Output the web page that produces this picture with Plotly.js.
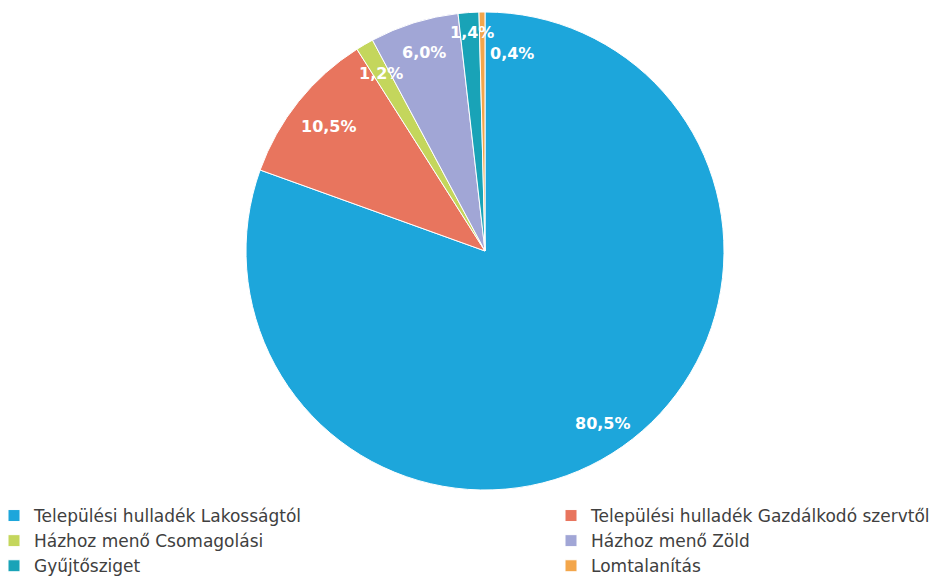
<!DOCTYPE html>
<html>
<head>
<meta charset="utf-8">
<script src="https://cdn.plot.ly/plotly-3.0.1.min.js"></script>
<style>
html, body { margin: 0; padding: 0; overflow: hidden; background: #ffffff; }
#chart { width: 1150px; height: 584px; position: relative; left: -6px; }
</style>
</head>
<body>
<div id="chart"></div>
<script>
// Data
const categories = [
  "Települési hulladék Lakosságtól",
  "Települési hulladék Gazdálkodó szervtől",
  "Házhoz menő Csomagolási",
  "Házhoz menő Zöld",
  "Gyűjtősziget",
  "Lomtalanítás"
];
const shares = [80.5, 10.5, 1.2, 6.0, 1.4, 0.4];
const sliceColors = ["#1DA6DB", "#E8755E", "#C4D65C", "#A1A6D6", "#19A3B7", "#F3A64B"];

// Style: label placement (fraction of radius) and per-label nudges in px [right, down]
const LABEL_R = 0.86;
const labelNudge = [[0, 4], [4, 4], [0, 0], [0, -2], [1, -13], [30, 8]];

const W = 1150, H = 584, SHIFT = 6;
const dom = { x: [(246 + SHIFT) / W, (724 + SHIFT) / W], y: [(H - 490) / H, (H - 12) / H] };

const trace = {
  type: "pie",
  labels: categories,
  values: shares,
  sort: false,
  direction: "clockwise",
  rotation: 0,
  marker: { colors: sliceColors, line: { color: "#ffffff", width: 1 } },
  textinfo: "none",
  hoverinfo: "label+percent",
  domain: dom
};

// Percentage labels placed at each slice's mid-angle (computed from the data)
const total = shares.reduce((a, b) => a + b, 0);
const cxPx = (dom.x[0] + dom.x[1]) / 2 * W;
const cyPx = H - (dom.y[0] + dom.y[1]) / 2 * H;
const Rpx = Math.min((dom.x[1] - dom.x[0]) * W, (dom.y[1] - dom.y[0]) * H) / 2;
const fmtPct = v => (v / total * 100).toFixed(1).replace(".", ",") + "%";
let cum = 0;
const annotations = shares.map((v, i) => {
  const mid = (cum + v / 2) / total * 2 * Math.PI;
  cum += v;
  const px = cxPx + LABEL_R * Rpx * Math.sin(mid) + labelNudge[i][0];
  const py = cyPx - LABEL_R * Rpx * Math.cos(mid) + labelNudge[i][1];
  return {
    xref: "paper", yref: "paper",
    x: px / W, y: (H - py) / H,
    xanchor: "center", yanchor: "middle",
    text: fmtPct(v),
    showarrow: false,
    font: { family: "DejaVu Sans, sans-serif", size: 16, color: "#ffffff", weight: "bold" }
  };
});

const layout = {
  width: W,
  height: H,
  margin: { l: 0, r: 0, t: 0, b: 0 },
  paper_bgcolor: "#ffffff",
  showlegend: true,
  annotations: annotations,
  legend: {
    orientation: "h",
    x: 0,
    xanchor: "left",
    y: 0,
    yanchor: "bottom",
    entrywidth: 512,
    entrywidthmode: "pixels",
    font: { family: "DejaVu Sans, sans-serif", size: 17, color: "#404040" },
    traceorder: "normal"
  },
  font: { family: "DejaVu Sans, sans-serif" }
};

Plotly.newPlot("chart", [trace], layout, { displayModeBar: false, staticPlot: true });
</script>
</body>
</html>
